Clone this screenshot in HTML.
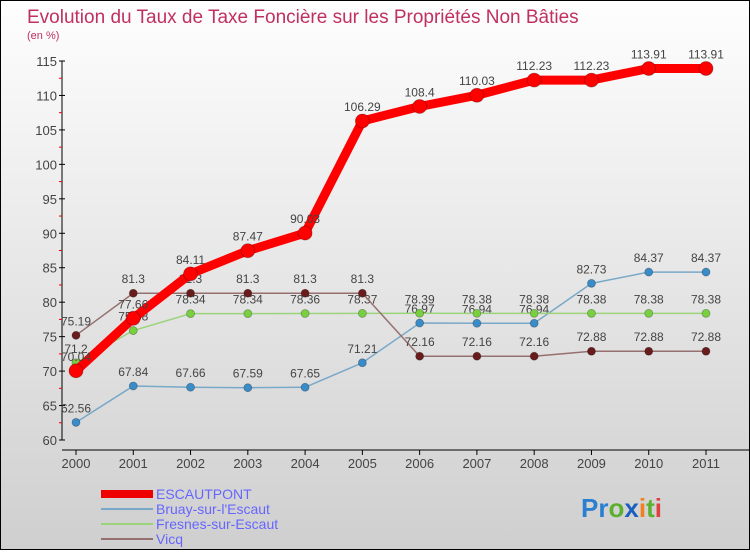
<!DOCTYPE html>
<html><head><meta charset="utf-8"><style>
html,body{margin:0;padding:0}
body{width:750px;height:550px;overflow:hidden;font-family:"Liberation Sans",sans-serif}
#wrap{position:relative;width:748px;height:548px;border:1px solid #000;background:linear-gradient(#fefefe,#cfcfcf)}
svg text{font-family:"Liberation Sans",sans-serif}
</style></head><body>
<div id="wrap">
<svg id="chart" width="748" height="548">
<text x="26" y="22" font-size="19" fill="#c03060">Evolution du Taux de Taxe Foncière sur les Propriétés Non Bâties</text>
<text x="26" y="38" font-size="11" fill="#c03060">(en %)</text>
<g id="axes"></g><g id="series"></g>
<g>
<rect x="100" y="489" width="52" height="8" fill="#e00"/>
<text x="155" y="498" font-size="14" fill="#66f">ESCAUTPONT</text>
<rect x="100" y="507" width="52" height="2" fill="#79a8c8"/>
<text x="155" y="513" font-size="14" fill="#66f">Bruay-sur-l'Escaut</text>
<rect x="100" y="522" width="52" height="2" fill="#9cd47c"/>
<text x="155" y="528" font-size="14" fill="#66f">Fresnes-sur-Escaut</text>
<rect x="100" y="537" width="52" height="2" fill="#967070"/>
<text x="155" y="543" font-size="14" fill="#66f">Vicq</text>
</g>
<text x="580" y="516" font-size="26" font-weight="bold"><tspan fill="#2a7fd0">Pr</tspan><tspan fill="#5cb030">o</tspan><tspan fill="#1a5fc0">x</tspan><tspan fill="#f08020">i</tspan><tspan fill="#5cb030">t</tspan><tspan fill="#e04040">i</tspan></text>
</svg>
</div>
<script>
const years=["2000","2001","2002","2003","2004","2005","2006","2007","2008","2009","2010","2011"];
const yTicks=[60,65,70,75,80,85,90,95,100,105,110,115];
const escautpont=[70.04,77.66,84.11,87.47,90.03,106.29,108.4,110.03,112.23,112.23,113.91,113.91];
const bruay=[62.56,67.84,67.66,67.59,67.65,71.21,76.97,76.94,76.94,82.73,84.37,84.37];
const fresnes=[71.2,75.88,78.34,78.34,78.36,78.37,78.39,78.38,78.38,78.38,78.38,78.38];
const vicq=[75.19,81.3,81.3,81.3,81.3,81.3,72.16,72.16,72.16,72.88,72.88,72.88];
const NS="http://www.w3.org/2000/svg";
const X=i=>75+i*(630/11);
const Y=v=>439-(v-60)*(379/55);
function mk(t,a,p){const e=document.createElementNS(NS,t);for(const k in a)e.setAttribute(k,a[k]);p.appendChild(e);return e;}
const ax=document.getElementById('axes');
let l=mk('line',{x1:61,y1:Y(115),x2:61,y2:Y(60),stroke:'#000'},ax);


l=mk('line',{x1:61,y1:449,x2:748,y2:449,stroke:'#000'},ax);


yTicks.forEach((v,i)=>{
  mk('line',{x1:58,x2:64,y1:Y(v),y2:Y(v),stroke:'#000'},ax);
  if(i<yTicks.length-1)mk('line',{x1:58,x2:61,y1:Y(v+2.5),y2:Y(v+2.5),stroke:'#e00'},ax);
  const t=mk('text',{x:56,y:Y(v)+5,'font-size':13,'text-anchor':'end',fill:'#444'},ax);
  t.textContent=v;
  
  
});
years.forEach((y,i)=>{
  mk('line',{x1:X(i),x2:X(i),y1:449,y2:454,stroke:'#000'},ax);
  const t=mk('text',{x:X(i),y:467,'font-size':13,'text-anchor':'middle',fill:'#444'},ax);
  t.textContent=y;
  
  
});
const sg=document.getElementById('series');
function draw(vals,name,col,dot,w,r){
  const g=mk('g',{},sg);
  
  
  const pl=mk('polyline',{points:vals.map((v,i)=>X(i)+','+Y(v)).join(' '),fill:'none',stroke:col,'stroke-width':w,'stroke-linejoin':'round'},g);
  
  
  vals.forEach((v,i)=>{
    const c=mk('circle',{cx:X(i),cy:Y(v),r:r,fill:dot,stroke:'rgba(0,0,0,0.3)','stroke-width':0.8},g);
    
    
    const t=mk('text',{x:X(i),y:Y(v)-10,'font-size':12,'text-anchor':'middle',fill:'#444'},g);
    t.textContent=String(v);
    
    
  });
}
draw(bruay,'bruay','#79a8c8','#3a8cc8',1.5,4);
draw(fresnes,'fresnes','#9cd47c','#78d040',1.5,4);
draw(vicq,'vicq','#967070','#6a1c1c',1.5,4);
draw(escautpont,'escautpont','#f00','#f00',9,7);
</script>
</body></html>
